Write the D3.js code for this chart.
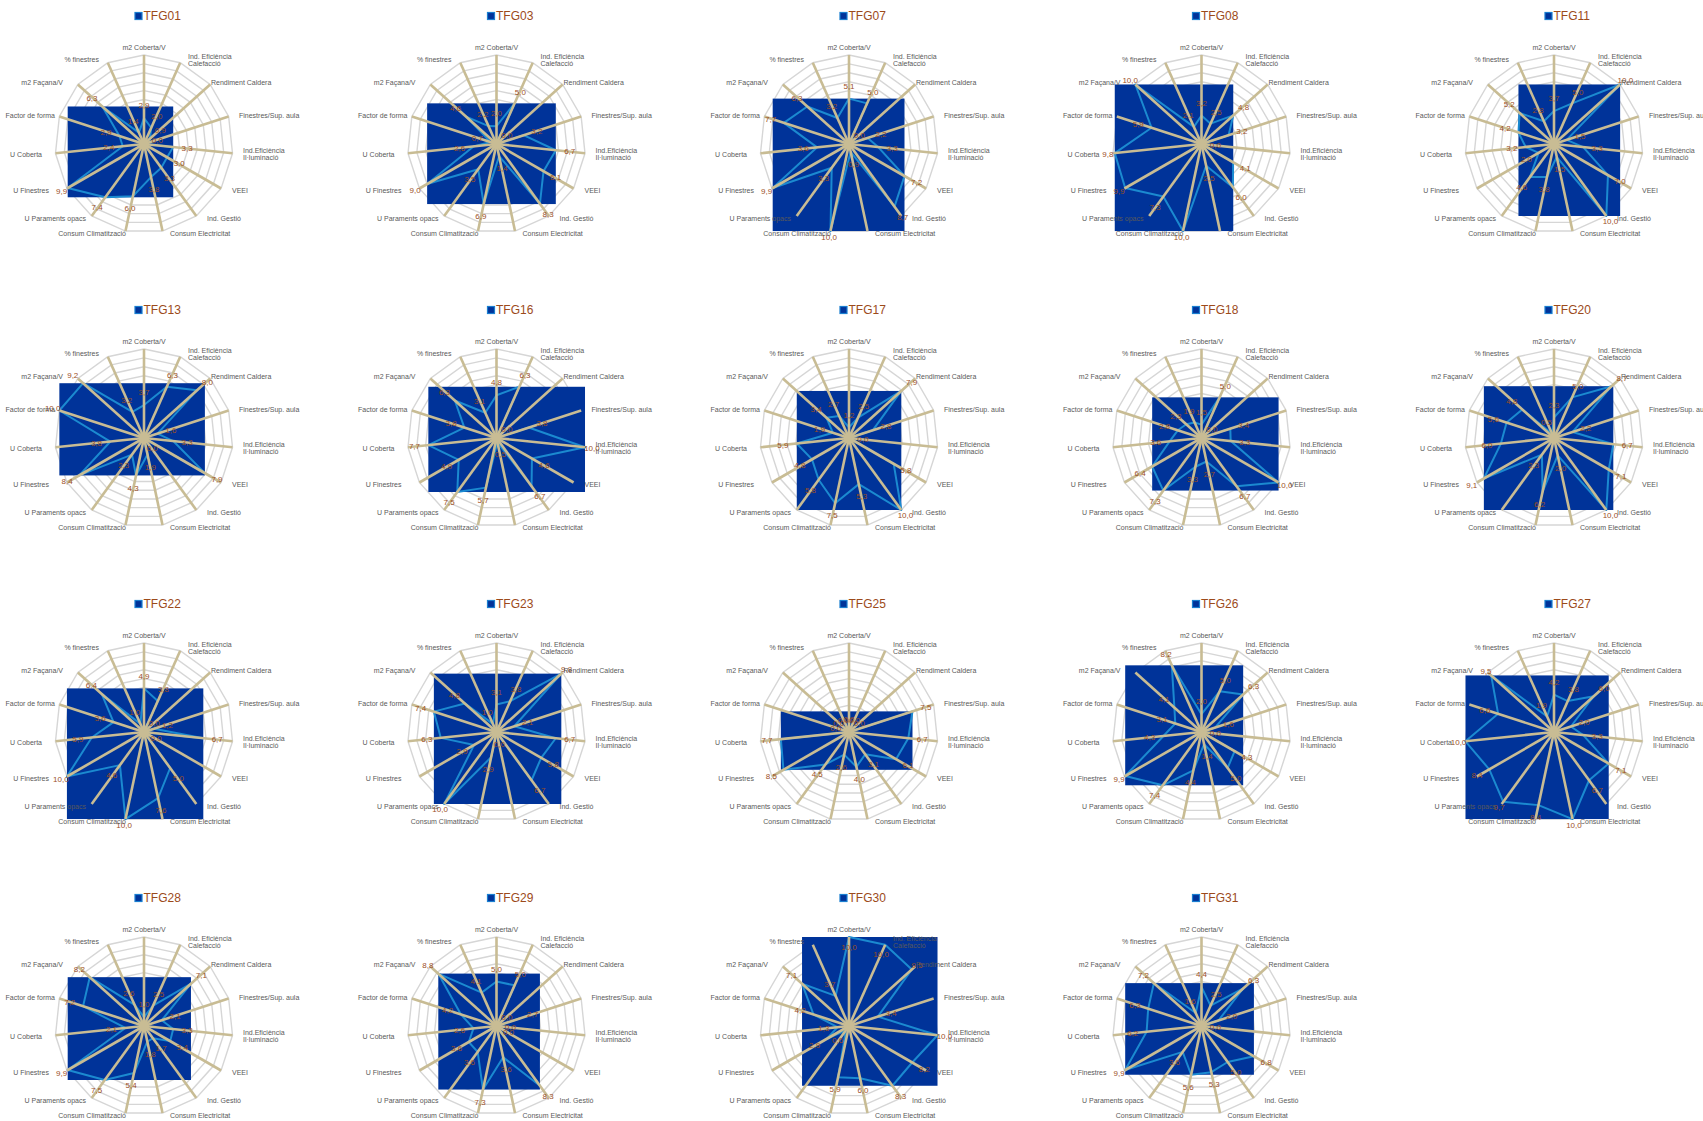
<!DOCTYPE html>
<html>
<head>
<meta charset="utf-8">
<script src="https://cdn.jsdelivr.net/npm/d3@7"></script>
<style>
  body { margin: 0; background: #ffffff; }
  svg { display: block; }
  text { font-family: "Liberation Sans", Arial, sans-serif; }
</style>
</head>
<body>
<svg id="chart" width="1703" height="1121"></svg>
<script>
// Indicator axes, clockwise from the top
const categories = [
  "m2 Coberta/V", "Ind. Eficiència\nCalefacció", "Rendiment Caldera", "Finestres/Sup. aula",
  "Ind.Eficiència\nIl·luminació", "VEEI", "Ind. Gestió", "Consum Electricitat",
  "Consum Climatització", "U Paraments opacs", "U Finestres", "U Coberta",
  "Factor de forma", "m2 Façana/V", "% finestres"
];

// Scores (0-10) per building, in the same order as the axes
const tfg01 = [2.9, 2.0, 0.9, 0.0, 3.3, 3.0, 3.3, 3.8, 6.0, 7.4, 9.9, 2.4, 2.9, 6.3, 1.4];
const tfg03 = [2.0, 5.0, 0.0, 3.2, 6.7, 6.1, 8.3, 1.4, 6.9, 3.5, 9.0, 2.6, 0.7, 4.6, 2.2];
const tfg07 = [5.1, 5.0, 0.0, 2.2, 3.3, 7.2, 8.7, 0.9, 10.0, 3.3, 9.9, 3.6, 7.7, 6.3, 3.2];
const tfg08 = [3.2, 2.5, 4.8, 3.2, 0.0, 4.1, 6.0, 2.5, 10.0, 7.3, 9.9, 9.8, 5.9, 10.0, 2.1];
const tfg11 = [3.7, 5.0, 10.0, 1.5, 3.3, 7.0, 10.0, 1.5, 3.8, 4.6, 2.0, 3.2, 4.2, 5.2, 2.8];
const tfg13 = [3.7, 6.3, 8.0, 1.6, 3.3, 7.9, 0.0, 1.9, 4.3, 2.3, 8.4, 3.8, 10.0, 9.2, 3.2];
const tfg16 = [4.8, 6.3, 0.0, 3.8, 10.0, 4.6, 6.7, 0.5, 5.7, 7.5, 4.9, 7.7, 3.8, 6.3, 3.1];
const tfg17 = [1.2, 2.5, 7.9, 2.8, 0.0, 5.8, 10.0, 5.3, 7.5, 5.8, 4.8, 5.9, 1.9, 3.4, 2.7];
const tfg18 = [1.5, 5.0, 0.0, 3.4, 3.3, 10.0, 6.7, 2.7, 3.3, 7.3, 6.4, 3.6, 2.8, 2.3, 1.9];
const tfg20 = [2.3, 5.0, 8.7, 2.2, 6.7, 7.1, 10.0, 2.0, 6.2, 2.3, 9.1, 6.0, 5.6, 4.8, 0.5];
const tfg22 = [4.9, 3.8, 0.0, 1.2, 6.7, 0.0, 5.0, 7.6, 10.0, 4.6, 10.0, 5.9, 3.6, 6.4, 1.0];
const tfg23 = [3.1, 3.8, 9.8, 2.1, 6.7, 5.8, 6.7, 0.0, 2.9, 10.0, 2.9, 6.3, 7.4, 4.8, 1.0];
const tfg25 = [0.0, 0.0, 0.0, 7.5, 6.7, 6.1, 3.1, 4.0, 2.6, 4.5, 8.5, 7.7, 0.0, 0.0, 0.0];
const tfg26 = [2.0, 5.0, 6.3, 1.6, 0.0, 4.3, 5.0, 1.4, 4.4, 7.4, 9.9, 4.3, 3.1, 4.1, 8.2];
const tfg27 = [4.2, 3.8, 6.0, 2.0, 3.3, 7.1, 6.7, 10.0, 8.4, 9.7, 8.4, 10.0, 6.6, 9.5, 1.9];
const tfg28 = [1.0, 2.5, 7.1, 2.1, 3.3, 3.4, 1.7, 1.8, 5.4, 7.5, 9.9, 2.1, 7.2, 8.2, 2.6];
const tfg29 = [5.0, 5.0, 0.0, 2.7, 0.0, 0.0, 8.3, 3.6, 7.3, 3.6, 3.6, 2.6, 4.2, 8.8, 4.1];
const tfg30 = [10.0, 10.0, 9.5, 3.4, 10.0, 8.2, 8.3, 6.0, 5.9, 0.6, 2.9, 1.3, 4.2, 7.1, 3.7];
const tfg31 = [4.4, 2.5, 6.3, 2.0, 0.0, 6.8, 5.0, 5.3, 5.6, 3.6, 9.9, 6.2, 6.3, 7.2, 1.6];

const panels = [
  ["TFG01", tfg01], ["TFG03", tfg03], ["TFG07", tfg07], ["TFG08", tfg08], ["TFG11", tfg11],
  ["TFG13", tfg13], ["TFG16", tfg16], ["TFG17", tfg17], ["TFG18", tfg18], ["TFG20", tfg20],
  ["TFG22", tfg22], ["TFG23", tfg23], ["TFG25", tfg25], ["TFG26", tfg26], ["TFG27", tfg27],
  ["TFG28", tfg28], ["TFG29", tfg29], ["TFG30", tfg30], ["TFG31", tfg31]
];

// Layout
const COLS = 5;
const R = 89;
const colX = d3.scaleLinear().domain([0, 1]).range([144, 496.5]);
const rowY = d3.scaleLinear().domain([0, 1]).range([144, 438]);
const rScale = d3.scaleLinear().domain([0, 10]).range([0, R]);
const angle = d3.scaleLinear().domain([0, categories.length]).range([0, 2 * Math.PI]);
const unit = i => [Math.sin(angle(i)), -Math.cos(angle(i))];
const fmt = v => d3.format(".1f")(v).replace(".", ",");

// where each axis caption sits, relative to the panel centre
const captionAt = [
  [0, -96], [44, -84], [67, -61], [95, -28], [99, 10], [88, 47], [63, 75], [26, 90],
  [-18, 90], [-58, 75], [-95, 47], [-102, 11], [-89, -28], [-81, -61], [-45, -84]
];

const COLORS = {
  ring: "#d6d6d6",
  spoke: "#c8bc94",
  fill: "#003399",
  outline: "#1b8ad0",
  value: "#9c4f1f",
  axisText: "#595959",
  title: "#9c4a1a"
};

const svg = d3.select("#chart");

panels.forEach(([name, values], k) => {
  const cx = colX(k % COLS), cy = rowY(Math.floor(k / COLS));
  const g = svg.append("g").attr("transform", `translate(${cx},${cy})`);

  const radarLine = d3.lineRadial()
    .angle((d, i) => angle(i))
    .radius(d => rScale(d))
    .curve(d3.curveLinearClosed);

  // concentric grid rings, one per unit
  d3.range(1, 11).forEach(t => {
    g.append("path")
      .attr("d", radarLine(categories.map(() => t)))
      .attr("fill", "none")
      .attr("stroke", COLORS.ring)
      .attr("stroke-width", 1.4);
  });

  // data points
  const pts = values.map((v, i) => {
    const [ux, uy] = unit(i);
    return [ux * rScale(v), uy * rScale(v)];
  });
  const [xMin, xMax] = d3.extent(pts, p => p[0]);
  const [yMin, yMax] = d3.extent(pts, p => p[1]);

  // filled area spans the extent of the series
  g.append("rect")
    .attr("x", xMin).attr("y", yMin)
    .attr("width", xMax - xMin).attr("height", yMax - yMin)
    .attr("fill", COLORS.fill);

  // series outline
  g.append("path")
    .attr("d", radarLine(values))
    .attr("fill", "none")
    .attr("stroke", COLORS.outline)
    .attr("stroke-width", 2)
    .attr("stroke-linejoin", "round");

  // spokes
  categories.forEach((c, i) => {
    const [ux, uy] = unit(i);
    g.append("line")
      .attr("x1", 0).attr("y1", 0)
      .attr("x2", ux * R).attr("y2", uy * R)
      .attr("stroke", COLORS.spoke)
      .attr("stroke-width", 2.6);
  });
  g.append("circle").attr("r", 5).attr("fill", COLORS.spoke);

  // value labels: pushed outward from their points; near the rim they stay
  // close to the point (inside it at the top, where the captions sit)
  values.forEach((v, i) => {
    const [ux, uy] = unit(i);
    const [px, py] = pts[i];
    let push = 14;
    if (v >= 9.5) push = uy < -0.85 ? -10 : 7;
    g.append("text")
      .attr("x", px + ux * push)
      .attr("y", py + uy * push * (push > 0 ? 0.9 : 1))
      .attr("dy", "0.35em")
      .attr("text-anchor", "middle")
      .attr("font-size", 8)
      .attr("fill", COLORS.value)
      .text(fmt(v));
  });

  // axis captions
  categories.forEach((c, i) => {
    const [ux] = unit(i);
    const [lx, ly] = captionAt[i];
    const lines = c.split("\n");
    const anchor = ux > 0.15 ? "start" : (ux < -0.15 ? "end" : "middle");
    const t = g.append("text")
      .attr("x", lx)
      .attr("y", ly)
      .attr("text-anchor", anchor)
      .attr("font-size", 7)
      .attr("fill", COLORS.axisText);
    lines.forEach((ln, j) => {
      t.append("tspan")
        .attr("x", lx)
        .attr("dy", j === 0 ? (0.35 - (lines.length - 1) * 0.5) + "em" : "1em")
        .text(ln);
    });
  });

  // legend title
  const lg = g.append("g").attr("transform", `translate(-9, -128)`);
  lg.append("rect")
    .attr("x", 0).attr("y", -3.5).attr("width", 7).attr("height", 7)
    .attr("fill", COLORS.fill)
    .attr("stroke", "#1a7fd0").attr("stroke-width", 1.2);
  lg.append("text")
    .attr("x", 8.5).attr("y", 0).attr("dy", "0.36em")
    .attr("font-size", 12)
    .attr("fill", COLORS.title)
    .text(name);
});
</script>
</body>
</html>
